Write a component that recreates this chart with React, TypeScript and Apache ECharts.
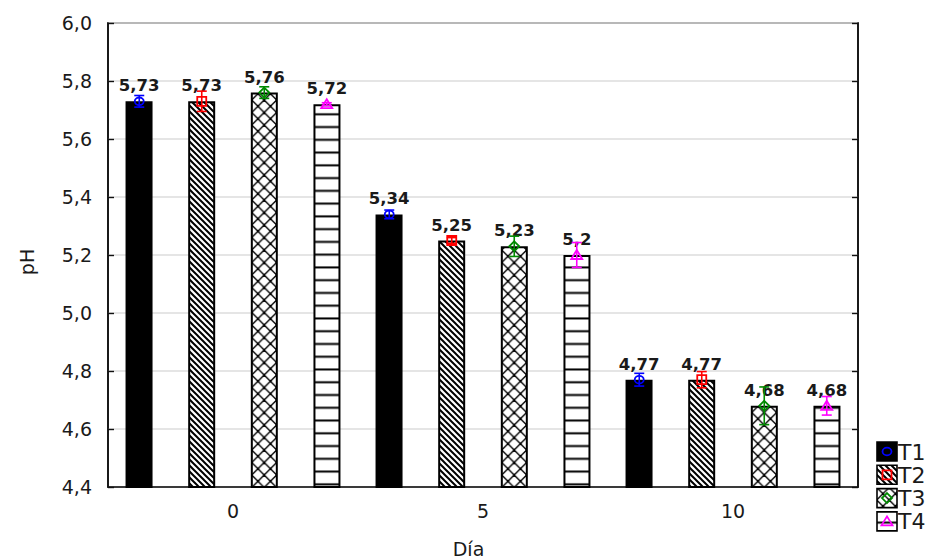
import React, { useEffect, useRef } from "react";
import * as echarts from "echarts";

// ---- data ----
const days = ["0", "5", "10"];
const treatments = ["T1", "T2", "T3", "T4"];
const t1Mean = [5.73, 5.34, 4.77];
const t2Mean = [5.73, 5.25, 4.77];
const t3Mean = [5.76, 5.23, 4.68];
const t4Mean = [5.72, 5.2, 4.68];
const t1Err = [0.02, 0.015, 0.022];
const t2Err = [0.035, 0.01, 0.028];
const t3Err = [0.02, 0.035, 0.065];
const t4Err = [0.005, 0.043, 0.032];
const yMin = 4.4;
const yMax = 6.0;
const yStep = 0.2;

const means = [t1Mean, t2Mean, t3Mean, t4Mean];
const errs = [t1Err, t2Err, t3Err, t4Err];
const markerColors = ["#0000ff", "#ff0000", "#008a00", "#ff00ff"];

const FONT = "DejaVu Sans";
const TEXT = "#1a1a1a";

function svgUrl(w: number, h: number, body: string) {
  return (
    "data:image/svg+xml;charset=utf-8," +
    encodeURIComponent(
      `<svg xmlns="http://www.w3.org/2000/svg" width="${w}" height="${h}" viewBox="0 0 ${w} ${h}">${body}</svg>`
    )
  );
}

function makePatterns(): any[] {
  // T2: diagonal "\\" hatch
  const diag = svgUrl(
    6,
    6,
    `<rect width="6" height="6" fill="#fff"/><path d="M-1,-1 L7,7 M5,-1 L7,1 M-1,5 L1,7" stroke="#000" stroke-width="2"/>`
  );
  // T3: diamond lattice with dots at the crossings
  const P = 12.5;
  const o = 1.7;
  let d = "";
  for (let k = -2; k <= 3; k++) {
    const c = o + P * k;
    d += `M${c - 3},-3 L${c + P + 3},${P + 3} `;
    d += `M${c + 3},-3 L${c - P - 3},${P + 3} `;
  }
  const dots = [
    [o, 0],
    [o, P],
    [o + P, 0],
    [o + P, P],
    [o + P / 2, P / 2],
  ]
    .map(([x, y]) => `<circle cx="${x}" cy="${y}" r="1.2" fill="#000"/>`)
    .join("");
  const lattice = svgUrl(
    P,
    P,
    `<rect width="${P}" height="${P}" fill="#fff"/><path d="${d}" stroke="#000" stroke-width="1.4" fill="none"/>${dots}`
  );
  // T4: horizontal lines
  const H = 12.76;
  const horiz = svgUrl(
    4,
    H,
    `<rect width="4" height="${H}" fill="#fff"/><rect x="0" y="${H - 1.54}" width="4" height="1.54" fill="#000"/><rect x="0" y="0" width="4" height="0.46" fill="#000"/>`
  );
  return [
    "#000000",
    { image: diag, repeat: "repeat", imageWidth: 6, imageHeight: 6 },
    { image: lattice, repeat: "repeat", imageWidth: P, imageHeight: P },
    { image: horiz, repeat: "repeat", imageWidth: 4, imageHeight: H },
  ];
}

function marker(i: number, cx: number, cy: number): any {
  const stroke = markerColors[i];
  const style = { fill: "none", stroke, lineWidth: 1.8 };
  if (i === 0) return { type: "ellipse", shape: { cx, cy, rx: 4.5, ry: 3.8 }, style };
  if (i === 1) return { type: "rect", shape: { x: cx - 4.5, y: cy - 4.5, width: 9, height: 9 }, style };
  if (i === 2)
    return {
      type: "polygon",
      shape: { points: [[cx, cy - 5], [cx + 5, cy], [cx, cy + 5], [cx - 5, cy]] },
      style,
    };
  return {
    type: "polygon",
    shape: { points: [[cx, cy - 5], [cx + 5.5, cy + 4], [cx - 5.5, cy + 4]] },
    style,
  };
}

const fmt = (v: number) => String(v).replace(".", ",");

export default function App() {
  const ref = useRef<HTMLDivElement>(null);
  useEffect(() => {
    if (!ref.current) return;
    const chart = echarts.init(ref.current, null, { renderer: "svg" });
    const fills = makePatterns();

    const barSeries = treatments.map((name, i) => ({
      name,
      type: "bar",
      data: means[i],
      barWidth: 27,
      barGap: "132%",
      itemStyle: { color: fills[i], borderColor: "#000", borderWidth: 2 },
      label: {
        show: true,
        position: "top",
        distance: 7,
        formatter: (p: any) => fmt(p.value),
        fontFamily: FONT,
        fontWeight: "bold",
        fontSize: 16.5,
        color: TEXT,
      },
      z: 2,
    }));

    const errSeries = treatments.map((name, i) => ({
      name: name + "_err",
      type: "custom",
      z: 5,
      encode: { x: 0, y: 1 },
      data: days.map((_, j) => [j, means[i][j], errs[i][j]]),
      renderItem: (params: any, api: any) => {
        const cat = api.value(0);
        const m = api.value(1);
        const e = api.value(2);
        const band = api.size([1, 0])[0];
        const off = (i - 1.5) * (band / 4);
        const c = api.coord([cat, m]);
        const top = api.coord([cat, m + e]);
        const bot = api.coord([cat, m - e]);
        const x = c[0] + off;
        const col = markerColors[i];
        const ls = { stroke: col, lineWidth: 1.6 };
        return {
          type: "group",
          children: [
            { type: "line", shape: { x1: x, y1: top[1], x2: x, y2: bot[1] }, style: ls },
            { type: "line", shape: { x1: x - 5, y1: top[1], x2: x + 5, y2: top[1] }, style: ls },
            { type: "line", shape: { x1: x - 5, y1: bot[1], x2: x + 5, y2: bot[1] }, style: ls },
            marker(i, x, c[1]),
          ],
        };
      },
    }));

    const legendEls: any[] = [];
    treatments.forEach((name, i) => {
      const y0 = 442 + i * 23.3;
      legendEls.push({
        type: "rect",
        shape: { x: 877, y: y0, width: 20, height: 19 },
        style: { fill: fills[i], stroke: "#000", lineWidth: 1.6 },
      });
      legendEls.push(marker(i, 887, y0 + 9.5));
      legendEls.push({
        type: "text",
        x: 898,
        y: y0 + 10,
        style: {
          text: name,
          fontFamily: FONT,
          fontSize: 22,
          fill: TEXT,
          verticalAlign: "middle",
          align: "left",
        },
      });
    });

    const tickLabel = {
      fontFamily: FONT,
      fontSize: 19,
      color: TEXT,
    };

    chart.setOption({
      animation: false,
      backgroundColor: "#fff",
      grid: {
        left: 108,
        right: 72,
        top: 23,
        bottom: 73,
        show: true,
        borderColor: "#111",
        borderWidth: 1.6,
        outerBoundsMode: "none",
      },
      xAxis: {
        type: "category",
        data: days,
        name: "Día",
        nameLocation: "middle",
        nameGap: 52,
        nameTextStyle: { ...tickLabel, padding: [0, 29, 0, 0] },
        axisLine: { lineStyle: { color: "#111", width: 1.6 } },
        axisTick: { alignWithLabel: true, inside: true, length: 5, lineStyle: { color: "#111", width: 1.4 } },
        axisLabel: { ...tickLabel, margin: 14 },
        splitLine: { show: false },
      },
      yAxis: [
        {
          type: "value",
          min: yMin,
          max: yMax,
          interval: yStep,
          name: "pH",
          nameLocation: "middle",
          nameGap: 72,
          nameRotate: 90,
          nameTextStyle: { ...tickLabel, padding: [0, 14, 0, 0] },
          axisLine: { show: true, lineStyle: { color: "#111", width: 1.6 } },
          axisTick: { show: true, inside: true, length: 6, lineStyle: { color: "#111", width: 1.4 } },
          axisLabel: { ...tickLabel, margin: 16, formatter: (v: number) => v.toFixed(1).replace(".", ",") },
          splitLine: { show: true, lineStyle: { color: "#dcdcdc", width: 1.5 } },
        },
        {
          type: "value",
          position: "right",
          min: yMin,
          max: yMax,
          interval: yStep,
          axisLine: { show: true, lineStyle: { color: "#111", width: 1.6 } },
          axisTick: { show: true, inside: true, length: 6, lineStyle: { color: "#111", width: 1.4 } },
          axisLabel: { show: false },
          splitLine: { show: false },
        },
      ],
      series: [...barSeries, ...errSeries],
      graphic: { elements: legendEls },
    });
    return () => chart.dispose();
  }, []);
  return (
    <div
      ref={ref}
      style={{ position: "fixed", left: 0, top: 0, width: 930, height: 560, background: "#fff" }}
    />
  );
}
